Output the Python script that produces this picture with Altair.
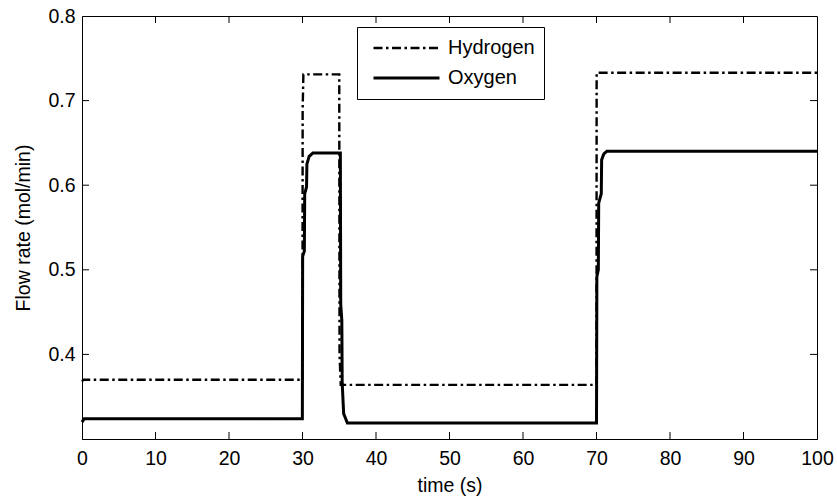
import altair as alt
import pandas as pd

# ---- data ----
series_names = ["Hydrogen", "Oxygen"]

h_time = [0.0, 0.2, 29.98, 30.0, 30.02, 30.12, 34.97, 35.0, 35.04, 35.2, 69.96, 70.0, 70.02, 100.0]
h_flow = [0.368, 0.370, 0.370, 0.370, 0.689, 0.731, 0.731, 0.731, 0.400, 0.364, 0.364, 0.364, 0.733, 0.733]

o_time = [0.0, 0.3, 29.98, 30.02, 30.25, 30.3, 30.55, 30.6, 30.9, 31.4,
          35.15, 35.2, 35.35, 35.4, 35.6, 36.1,
          69.96, 70.0, 70.05, 70.25, 70.3, 70.65, 70.7, 71.0, 71.4, 100.0]
o_flow = [0.320, 0.324, 0.324, 0.516, 0.522, 0.590, 0.598, 0.625, 0.634, 0.638,
          0.638, 0.459, 0.440, 0.366, 0.330, 0.319,
          0.319, 0.319, 0.492, 0.500, 0.579, 0.590, 0.630, 0.637, 0.640, 0.640]

x_ticks = [0, 10, 20, 30, 40, 50, 60, 70, 80, 90, 100]
y_ticks = [0.4, 0.5, 0.6, 0.7, 0.8]

FONT = "Liberation Sans"
FS = 19.5
W, H = 735, 423

df = pd.DataFrame({
    "t": h_time + o_time,
    "v": h_flow + o_flow,
    "series": ["Hydrogen"] * len(h_time) + ["Oxygen"] * len(o_time),
    "ord": list(range(len(h_time))) + list(range(len(o_time))),
})

x_scale = alt.Scale(domain=[0, 100], nice=False, zero=False)
y_scale = alt.Scale(domain=[0.3, 0.8], nice=False, zero=False)

x_axis = alt.Axis(values=x_ticks, title="time (s)", tickSize=0, labelPadding=10,
                  titlePadding=9, labelFlush=False, grid=False, format="d")
y_axis = alt.Axis(values=y_ticks, title="Flow rate (mol/min)", tickSize=0,
                  labelPadding=7, titlePadding=14, labelFlush=False, grid=False,
                  format=".1f")

legend = alt.Legend(
    title=None, orient="none", legendX=275, legendY=11,
    symbolType="stroke", symbolSize=4356, symbolStrokeColor="black",
    symbolOffset=6, clipHeight=24,
    labelFont=FONT, labelFontSize=20, labelColor="black", labelOffset=7,
    strokeColor="black", fillColor="white", padding=9, rowPadding=6,
)

lines = alt.Chart(df).mark_line(color="black", strokeCap="butt").encode(
    x=alt.X("t:Q", scale=x_scale, axis=x_axis, title="time (s)"),
    y=alt.Y("v:Q", scale=y_scale, axis=y_axis, title="Flow rate (mol/min)"),
    order="ord:Q",
    strokeDash=alt.StrokeDash("series:N", scale=alt.Scale(
        domain=series_names, range=[[9, 3.5, 2.5, 3.5], [1, 0]]), legend=legend),
    strokeWidth=alt.StrokeWidth("series:N", scale=alt.Scale(
        domain=series_names, range=[2.4, 3]), legend=legend),
)

xt = pd.DataFrame({"t": x_ticks[1:-1]})
yt = pd.DataFrame({"v": y_ticks[:-1]})
TL = 7

xb = alt.Chart(xt).mark_rule(color="black", strokeWidth=1).encode(
    x=alt.X("t:Q", scale=x_scale, axis=x_axis, title="time (s)"),
    y=alt.value(H), y2=alt.value(H - TL))
xtop = alt.Chart(xt).mark_rule(color="black", strokeWidth=1).encode(
    x=alt.X("t:Q", scale=x_scale, axis=x_axis, title="time (s)"),
    y=alt.value(0), y2=alt.value(TL))
yl = alt.Chart(yt).mark_rule(color="black", strokeWidth=1).encode(
    y=alt.Y("v:Q", scale=y_scale, axis=y_axis, title="Flow rate (mol/min)"),
    x=alt.value(0), x2=alt.value(TL))
yr = alt.Chart(yt).mark_rule(color="black", strokeWidth=1).encode(
    y=alt.Y("v:Q", scale=y_scale, axis=y_axis, title="Flow rate (mol/min)"),
    x=alt.value(W), x2=alt.value(W - TL))

chart = alt.layer(lines, xb, xtop, yl, yr).properties(
    width=W, height=H,
    autosize=alt.AutoSizeParams(type="none"),
    padding={"left": 82, "top": 16, "right": 20, "bottom": 62},
    background="white",
).configure_view(
    stroke="black", strokeWidth=1
).configure_axis(
    domainColor="black", domainWidth=1, labelFont=FONT, labelFontSize=FS,
    labelColor="black", titleFont=FONT, titleFontSize=FS, titleColor="black",
    titleFontWeight="normal",
)

chart.save("out.html", embed_options={"renderer": "svg", "actions": False})
